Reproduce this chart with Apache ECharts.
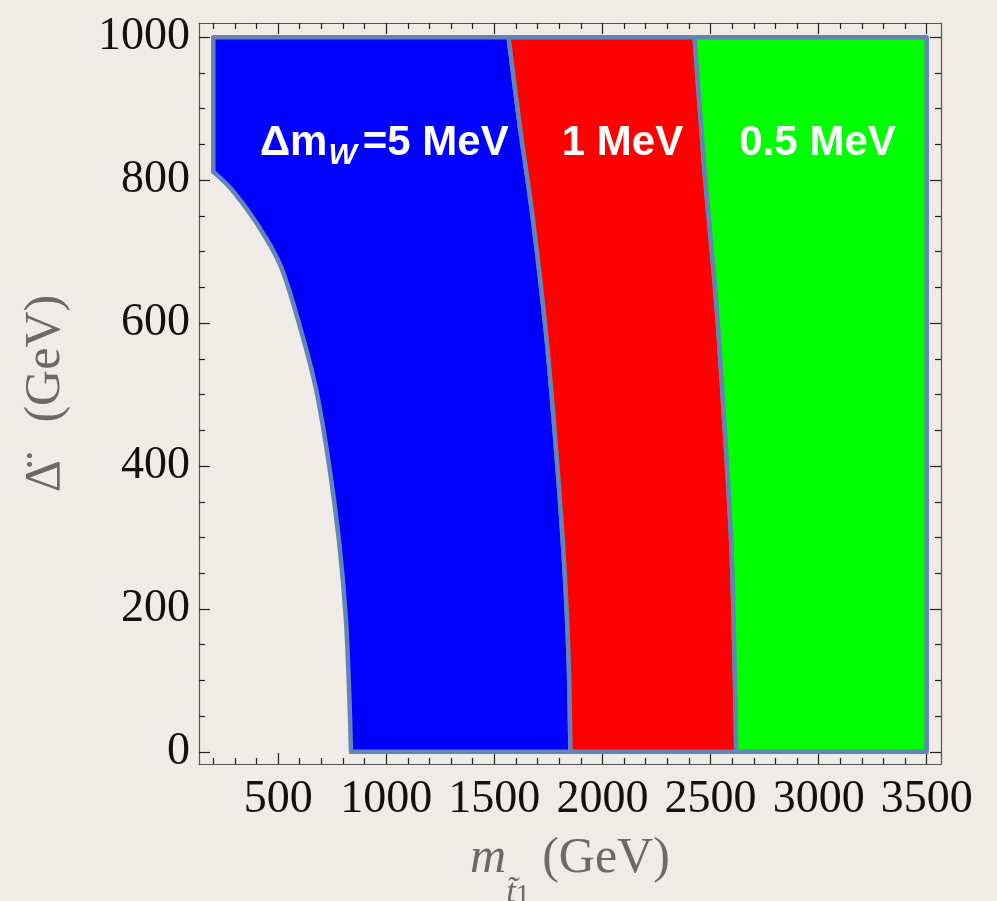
<!DOCTYPE html>
<html>
<head>
<meta charset="utf-8">
<script src="https://cdn.jsdelivr.net/npm/echarts@6/dist/echarts.min.js"></script>
<style>
  html, body { margin: 0; padding: 0; background: #efece7; }
  #chart { width: 997px; height: 901px; }
</style>
</head>
<body>
<div id="chart"></div>
<script>
// Left edge of the Δm_W = 5 MeV region (top to bottom), GeV
const edge5X = [200, 200, 288, 400, 510, 597, 675, 736, 782, 813, 829, 837];
const edge5Y = [1000, 812, 786, 740, 681, 599, 508, 401, 294, 188, 81, 0];
// Boundary between the 5 MeV and 1 MeV regions
const edge1X = [1566, 1616, 1677, 1739, 1786, 1824, 1844, 1852];
const edge1Y = [1000, 880, 749, 586, 422, 259, 128, 0];
// Boundary between the 1 MeV and 0.5 MeV regions
const edge05X = [2426, 2472, 2526, 2565, 2596, 2611, 2619];
const edge05Y = [1000, 814, 631, 455, 292, 128, 0];
// Outer limits of the scanned plane
const xLimits = [200, 3500];
const yLimits = [0, 1000];

const regionColors = ['#0000ff', '#ff0000', '#00ff00'];

// Region labels (centre of each label, GeV)
const labelX = [991, 2093, 2995];
const labelY = [852, 852, 852];
const labelText = ['{a|Δm}{w|W}{a|=5 MeV}', '{a|1 MeV}', '{a|0.5 MeV}'];

// Tick marks
const xMajorTicks = [500, 1000, 1500, 2000, 2500, 3000, 3500];
const xMinorTicks = [200, 300, 400, 600, 700, 800, 900, 1100, 1200, 1300, 1400,
  1600, 1700, 1800, 1900, 2100, 2200, 2300, 2400, 2600, 2700, 2800, 2900,
  3100, 3200, 3300, 3400];
const yMajorTicks = [0, 200, 400, 600, 800, 1000];
const yMinorTicks = [50, 100, 150, 250, 300, 350, 450, 500, 550, 650, 700, 750, 850, 900, 950];

// Framed view with a small margin around the data
const xView = [134, 3566];
const yView = [-17, 1020];

function zipPts(xs, ys) { return xs.map((x, i) => [x, ys[i]]); }

// Each region outline: straight runs ('L') and smooth boundary curves ('C')
const regions = [
  [
    { kind: 'L', pts: [[edge5X[0], edge5Y[0]], [edge5X[1], edge5Y[1]]] },
    { kind: 'C', pts: zipPts(edge5X, edge5Y).slice(1) },
    { kind: 'C', pts: zipPts(edge1X, edge1Y).reverse() }
  ],
  [
    { kind: 'C', pts: zipPts(edge1X, edge1Y) },
    { kind: 'C', pts: zipPts(edge05X, edge05Y).reverse() }
  ],
  [
    { kind: 'C', pts: zipPts(edge05X, edge05Y) },
    { kind: 'L', pts: [[xLimits[1], yLimits[0]], [xLimits[1], yLimits[1]]] }
  ]
];

// Catmull-Rom curve through screen points, written as cubic Bezier path commands
function curveCommands(p) {
  let d = '';
  for (let i = 0; i < p.length - 1; i++) {
    const p0 = p[Math.max(i - 1, 0)], p1 = p[i], p2 = p[i + 1], p3 = p[Math.min(i + 2, p.length - 1)];
    const c1 = [p1[0] + (p2[0] - p0[0]) / 6, p1[1] + (p2[1] - p0[1]) / 6];
    const c2 = [p2[0] - (p3[0] - p1[0]) / 6, p2[1] - (p3[1] - p1[1]) / 6];
    d += ' C' + c1[0].toFixed(2) + ',' + c1[1].toFixed(2) + ' ' + c2[0].toFixed(2) + ',' +
      c2[1].toFixed(2) + ' ' + p2[0].toFixed(2) + ',' + p2[1].toFixed(2);
  }
  return d;
}

function regionPath(parts, api) {
  let d = '';
  parts.forEach((part, k) => {
    const p = part.pts.map(v => api.coord(v));
    d += (k === 0 ? 'M' : ' L') + p[0][0].toFixed(2) + ',' + p[0][1].toFixed(2);
    if (part.kind === 'C') {
      d += curveCommands(p);
    } else {
      for (let i = 1; i < p.length; i++) d += ' L' + p[i][0].toFixed(2) + ',' + p[i][1].toFixed(2);
    }
  });
  return d + ' Z';
}

const frameColor = '#555555';
const tickColor = '#222222';
const serif = '"Liberation Serif", "Times New Roman", serif';
const sans = '"Liberation Sans", Arial, Helvetica, sans-serif';
const titleGray = '#6a6a6a';

function axisSet(dim, position, major, minor, withLabels) {
  const view = dim === 'x' ? xView : yView;
  const base = {
    type: 'value', min: view[0], max: view[1], position: position,
    splitLine: { show: false }, minorTick: { show: false }
  };
  const majorAxis = Object.assign({}, base, {
    axisLine: { show: true, onZero: false, lineStyle: { color: frameColor, width: 1.2 } },
    axisTick: { show: true, inside: true, length: 11, customValues: major,
      lineStyle: { color: tickColor, width: 1.2 } },
    axisLabel: withLabels ? {
      show: true, customValues: major, fontFamily: serif, fontSize: 46,
      color: '#111', margin: dim === 'x' ? 13 : 9, formatter: v => String(v)
    } : { show: false }
  });
  const minorAxis = Object.assign({}, base, {
    axisLine: { show: false, onZero: false },
    axisTick: { show: true, inside: true, length: 6, customValues: minor,
      lineStyle: { color: tickColor, width: 1.2 } },
    axisLabel: { show: false }
  });
  return [majorAxis, minorAxis];
}

const xAxes = axisSet('x', 'bottom', xMajorTicks, xMinorTicks, true)
  .concat(axisSet('x', 'top', xMajorTicks, xMinorTicks, false));
const yAxes = axisSet('y', 'left', yMajorTicks, yMinorTicks, true)
  .concat(axisSet('y', 'right', yMajorTicks, yMinorTicks, false));

xAxes[0].name = '{m|m}{t|t̃}{o|1}{g| (GeV)}';
xAxes[0].nameLocation = 'middle';
xAxes[0].nameGap = 70;
xAxes[0].nameTextStyle = {
  color: titleGray, fontFamily: serif,
  rich: {
    m: { fontSize: 50, fontStyle: 'italic', fontFamily: serif, color: titleGray, lineHeight: 76, verticalAlign: 'top' },
    t: { fontSize: 34, fontStyle: 'italic', fontFamily: serif, color: titleGray, lineHeight: 34, verticalAlign: 'bottom', padding: [0, 0, 0, 0] },
    o: { fontSize: 28, fontFamily: serif, color: titleGray, lineHeight: 24, verticalAlign: 'bottom' },
    g: { fontSize: 50, fontFamily: serif, color: titleGray, lineHeight: 76, verticalAlign: 'top' }
  }
};

yAxes[0].name = 'Δ̈   (GeV)';
yAxes[0].nameLocation = 'middle';
yAxes[0].nameGap = 128;
yAxes[0].nameTextStyle = { color: titleGray, fontFamily: serif, fontSize: 50 };

const chart = echarts.init(document.getElementById('chart'), null, { renderer: 'canvas' });

chart.setOption({
  backgroundColor: '#efece7',
  animation: false,
  grid: { left: 199, top: 23, width: 742, height: 741, containLabel: false, outerBoundsMode: 'none' },
  xAxis: xAxes,
  yAxis: yAxes,
  series: [
    {
      type: 'custom',
      coordinateSystem: 'cartesian2d',
      xAxisIndex: 0, yAxisIndex: 0,
      data: regions.map(r => r[0].pts[0]),
      renderItem: function (params, api) {
        return {
          type: 'path',
          shape: { pathData: regionPath(regions[params.dataIndex], api) },
          style: {
            fill: regionColors[params.dataIndex],
            stroke: '#6584b6',
            lineWidth: 4.5,
            lineJoin: 'round'
          }
        };
      },
      silent: true,
      z: 2
    },
    {
      type: 'scatter',
      xAxisIndex: 0, yAxisIndex: 0,
      symbolSize: 0,
      itemStyle: { opacity: 1 },
      data: labelX.map((x, i) => ({ value: [x, labelY[i]], text: labelText[i] })),
      label: {
        show: true,
        opacity: 1,
        position: 'inside',
        formatter: p => p.data.text,
        rich: {
          a: { fontFamily: sans, fontWeight: 'bold', fontSize: 42, color: '#ffffff', lineHeight: 56, verticalAlign: 'middle' },
          w: { fontFamily: sans, fontWeight: 'bold', fontStyle: 'italic', fontSize: 30, color: '#ffffff', lineHeight: 29, verticalAlign: 'bottom', padding: [0, 6, 0, 1] }
        }
      },
      silent: true,
      z: 5
    }
  ]
});
</script>
</body>
</html>
